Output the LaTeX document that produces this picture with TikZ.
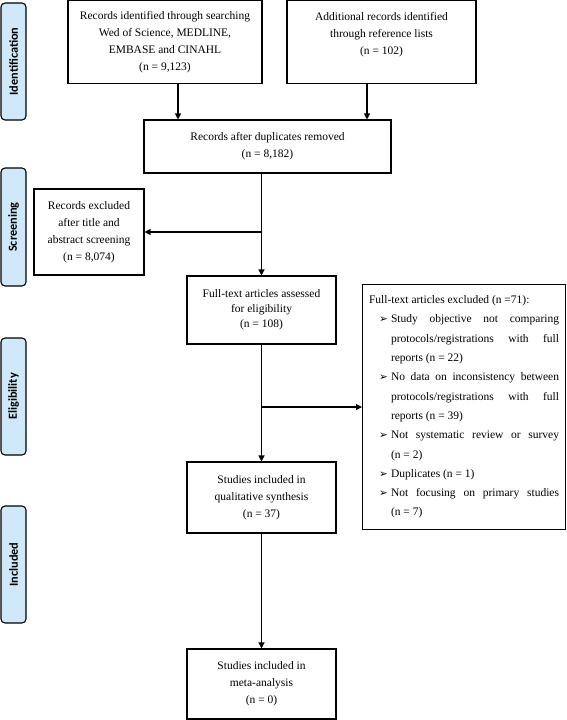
\documentclass[tikz,border=0pt]{standalone}
\usepackage{fontspec}
\setmainfont{Liberation Serif}
\newfontfamily\carlito{Carlito}
\newfontfamily\dejavu{DejaVu Sans}
\usetikzlibrary{arrows.meta,positioning,patterns.meta}
\definecolor{lblue}{RGB}{207,233,251}
\definecolor{dotc}{RGB}{222,205,210}
\newcommand{\bul}{\makebox[12pt][l]{\dejavu\fontsize{10.5}{10.5}\selectfont ➢}}
\tikzset{
  box/.style={draw, line width=1.1pt, align=center, inner sep=0pt,
    font=\fontsize{11.5}{17}\selectfont},
  arr/.style={line width=1.2pt, -{Triangle[length=6pt,width=6pt]}},
  sidelab/.style={draw, line width=1.1pt, preaction={fill=lblue},
    pattern={Dots[distance=4.5pt, radius=0.35pt, angle=20]}, pattern color=dotc,
    rounded corners=4pt,
    rotate=90, minimum height=25pt, inner sep=0pt,
    font=\carlito\bfseries\fontsize{12.3}{12.3}\selectfont}
}
\begin{document}
\begin{tikzpicture}[x=1pt,y=-1pt]
\useasboundingbox (0,0) rectangle (567,720);
% side labels
\node[sidelab, minimum width=117pt] (idl) at (13.5,61.5) {Identification};
\node[sidelab, minimum width=118pt] (scl) at (13.5,227) {Screening};
\node[sidelab, minimum width=117pt] (ell) at (13.5,396.5) {Eligibility};
\node[sidelab, minimum width=117pt] (inl) at (13.5,564.5) {Included};
% boxes
\node[box, minimum width=194pt, minimum height=82.5pt] (A) at (165,41.8)
  {Records identified through searching\\Wed of Science, MEDLINE,\\EMBASE and CINAHL\\(n = 9,123)};
\node[box, minimum width=189pt, minimum height=82.5pt] (B) at (381.5,41.8)
  {Additional records identified\\through reference lists\\(n = 102)\\\mbox{}};
\node[box, minimum width=247pt, minimum height=53pt] (C) at (267.5,146.5)
  {Records after duplicates removed\\(n = 8,182)};
\node[box, minimum width=110pt, minimum height=86pt] (D) at (89,232)
  {Records excluded\\after title and\\abstract screening\\(n = 8,074)};
\node[box, minimum width=149pt, minimum height=68pt,
  font=\fontsize{11.5}{15}\selectfont] (E) at (261.5,310)
  {Full-text articles assessed\\for eligibility\\(n = 108)};
\node[draw, line width=1.1pt, anchor=north west, text width=190pt, inner xsep=6.5pt,
  inner ysep=0pt, minimum height=245pt, align=justify,
  font=\fontsize{11.5}{19.3}\selectfont] (F) at (362,284)
  {\parindent=0pt Full-text articles excluded (n =71):\par
   \leftskip=22pt \parindent=-12pt
   \bul Study objective not comparing\linebreak protocols/registrations with full\linebreak reports (n = 22)\par
   \bul No data on inconsistency between\linebreak protocols/registrations with full\linebreak reports (n = 39)\par
   \bul Not systematic review or survey\linebreak (n = 2)\par
   \bul Duplicates (n = 1)\par
   \bul Not focusing on primary studies\linebreak (n = 7)\par};
\node[box, minimum width=149pt, minimum height=71pt] (G) at (261.5,497.5)
  {Studies included in\\qualitative synthesis\\(n = 37)};
\node[box, minimum width=149pt, minimum height=70pt] (H) at (261.5,684)
  {Studies included in\\meta-analysis\\(n = 0)};
% connectors
\draw[arr] ([xshift=13pt]A.south) -- ([xshift=13pt]A.south |- C.north);
\draw[arr] ([xshift=-14.5pt]B.south) -- ([xshift=-14.5pt]B.south |- C.north);
\draw[arr] (C.south -| E.north) -- (E.north);
\draw[arr] (D.east -| E.north) -- (D.east);
\draw[arr] (E.south) -- (G.north);
\draw[arr] (F.west -| E.south) -- (F.west);
\draw[arr] (G.south) -- (H.north);
\end{tikzpicture}
\end{document}
